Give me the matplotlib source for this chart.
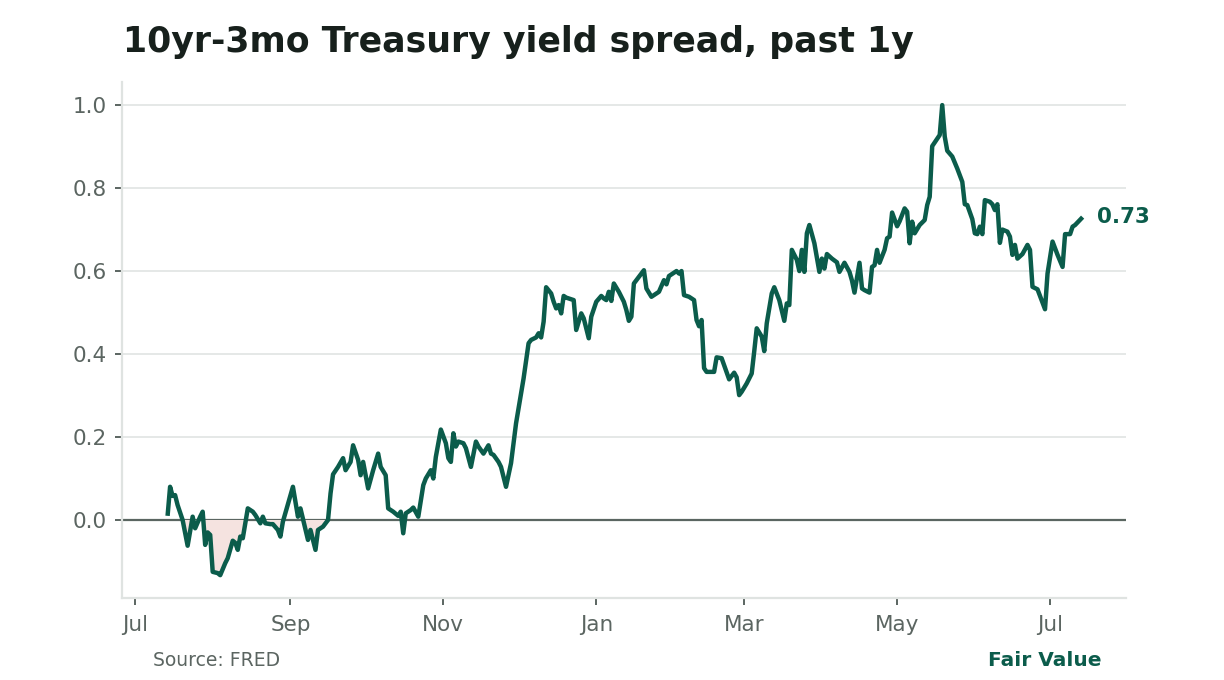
import matplotlib
matplotlib.use("Agg")
import matplotlib.pyplot as plt
import numpy as np
import pandas as pd

# ---- data ----
dates = [
    "2025-07-14", "2025-07-15", "2025-07-16", "2025-07-17", "2025-07-18", "2025-07-20",
    "2025-07-22", "2025-07-24", "2025-07-25", "2025-07-27", "2025-07-28", "2025-07-29",
    "2025-07-30", "2025-07-31", "2025-08-01", "2025-08-03", "2025-08-04", "2025-08-06",
    "2025-08-07", "2025-08-09", "2025-08-10", "2025-08-11", "2025-08-12", "2025-08-13",
    "2025-08-15", "2025-08-17", "2025-08-18", "2025-08-20", "2025-08-21", "2025-08-22",
    "2025-08-24", "2025-08-25", "2025-08-27", "2025-08-28", "2025-08-29", "2025-09-02",
    "2025-09-04", "2025-09-05", "2025-09-08", "2025-09-09", "2025-09-11", "2025-09-12",
    "2025-09-14", "2025-09-15", "2025-09-16", "2025-09-17", "2025-09-18", "2025-09-20",
    "2025-09-22", "2025-09-23", "2025-09-25", "2025-09-26", "2025-09-28", "2025-09-29",
    "2025-09-30", "2025-10-02", "2025-10-04", "2025-10-06", "2025-10-07", "2025-10-09",
    "2025-10-10", "2025-10-12", "2025-10-14", "2025-10-15", "2025-10-16", "2025-10-17",
    "2025-10-19", "2025-10-20", "2025-10-22", "2025-10-24", "2025-10-25", "2025-10-27",
    "2025-10-28", "2025-10-29", "2025-10-31", "2025-11-02", "2025-11-03", "2025-11-04",
    "2025-11-05", "2025-11-06", "2025-11-07", "2025-11-09", "2025-11-10", "2025-11-12",
    "2025-11-14", "2025-11-15", "2025-11-17", "2025-11-19", "2025-11-20", "2025-11-21",
    "2025-11-23", "2025-11-24", "2025-11-26", "2025-11-28", "2025-11-30", "2025-12-02",
    "2025-12-03", "2025-12-05", "2025-12-06", "2025-12-08", "2025-12-09", "2025-12-10",
    "2025-12-11", "2025-12-12", "2025-12-14", "2025-12-15", "2025-12-16", "2025-12-17",
    "2025-12-18", "2025-12-19", "2025-12-20", "2025-12-23", "2025-12-24", "2025-12-26",
    "2025-12-27", "2025-12-29", "2025-12-30", "2026-01-01", "2026-01-03", "2026-01-04",
    "2026-01-05", "2026-01-06", "2026-01-07", "2026-01-08", "2026-01-10", "2026-01-12",
    "2026-01-13", "2026-01-14", "2026-01-15", "2026-01-16", "2026-01-18", "2026-01-20",
    "2026-01-21", "2026-01-23", "2026-01-25", "2026-01-26", "2026-01-28", "2026-01-29",
    "2026-01-30", "2026-02-01", "2026-02-02", "2026-02-03", "2026-02-04", "2026-02-05",
    "2026-02-07", "2026-02-09", "2026-02-10", "2026-02-11", "2026-02-12", "2026-02-13",
    "2026-02-14", "2026-02-17", "2026-02-18", "2026-02-20", "2026-02-21", "2026-02-23",
    "2026-02-25", "2026-02-26", "2026-02-27", "2026-02-28", "2026-03-02", "2026-03-04",
    "2026-03-05", "2026-03-06", "2026-03-08", "2026-03-09", "2026-03-10", "2026-03-12",
    "2026-03-13", "2026-03-15", "2026-03-17", "2026-03-18", "2026-03-19", "2026-03-20",
    "2026-03-22", "2026-03-23", "2026-03-24", "2026-03-25", "2026-03-26", "2026-03-27",
    "2026-03-29", "2026-03-31", "2026-04-01", "2026-04-02", "2026-04-03", "2026-04-05",
    "2026-04-07", "2026-04-08", "2026-04-10", "2026-04-12", "2026-04-13", "2026-04-14",
    "2026-04-16", "2026-04-17", "2026-04-18", "2026-04-20", "2026-04-21", "2026-04-22",
    "2026-04-23", "2026-04-24", "2026-04-26", "2026-04-27", "2026-04-28", "2026-04-29",
    "2026-05-01", "2026-05-02", "2026-05-04", "2026-05-05", "2026-05-06", "2026-05-07",
    "2026-05-08", "2026-05-10", "2026-05-12", "2026-05-13", "2026-05-14", "2026-05-15",
    "2026-05-18", "2026-05-19", "2026-05-20", "2026-05-21", "2026-05-23", "2026-05-25",
    "2026-05-27", "2026-05-28", "2026-05-29", "2026-05-31", "2026-06-01", "2026-06-02",
    "2026-06-03", "2026-06-04", "2026-06-05", "2026-06-07", "2026-06-08", "2026-06-09",
    "2026-06-10", "2026-06-11", "2026-06-12", "2026-06-14", "2026-06-15", "2026-06-16",
    "2026-06-17", "2026-06-18", "2026-06-20", "2026-06-22", "2026-06-23", "2026-06-24",
    "2026-06-26", "2026-06-29", "2026-06-30", "2026-07-02", "2026-07-04", "2026-07-06",
    "2026-07-07", "2026-07-09", "2026-07-10", "2026-07-11", "2026-07-14",
]
spread = [
    0.01, 0.08, 0.058, 0.06, 0.036, 0.0,
    -0.062, 0.008, -0.02, 0.008, 0.02, -0.06,
    -0.03, -0.036, -0.125, -0.128, -0.133, -0.104,
    -0.092, -0.05, -0.055, -0.072, -0.04, -0.044,
    0.028, 0.02, 0.012, -0.008, 0.008, -0.008,
    -0.01, -0.01, -0.024, -0.04, -0.004, 0.08,
    0.008, 0.028, -0.048, -0.024, -0.072, -0.024,
    -0.016, -0.008, 0.0, 0.064, 0.11, 0.128,
    0.149, 0.12, 0.14, 0.18, 0.145, 0.108,
    0.14, 0.076, 0.12, 0.16, 0.128, 0.108,
    0.028, 0.02, 0.01, 0.02, -0.032, 0.016,
    0.024, 0.03, 0.008, 0.084, 0.1, 0.12,
    0.1, 0.152, 0.218, 0.185, 0.149, 0.14,
    0.209, 0.177, 0.189, 0.185, 0.173, 0.128,
    0.189, 0.177, 0.16, 0.18, 0.16, 0.157,
    0.14, 0.128, 0.08, 0.137, 0.233, 0.305,
    0.341, 0.426, 0.434, 0.44, 0.45, 0.44,
    0.478, 0.561, 0.546, 0.526, 0.51, 0.518,
    0.498, 0.54, 0.536, 0.53, 0.458, 0.498,
    0.486, 0.438, 0.49, 0.526, 0.54, 0.534,
    0.53, 0.55, 0.528, 0.57, 0.55, 0.526,
    0.506, 0.48, 0.49, 0.57, 0.586, 0.602,
    0.558, 0.538, 0.546, 0.55, 0.578, 0.568,
    0.588, 0.596, 0.6, 0.594, 0.6, 0.542,
    0.538, 0.53, 0.482, 0.467, 0.482, 0.366,
    0.357, 0.357, 0.392, 0.39, 0.373, 0.339,
    0.355, 0.344, 0.301, 0.309, 0.329, 0.353,
    0.406, 0.462, 0.442, 0.407, 0.474, 0.546,
    0.561, 0.53, 0.48, 0.522, 0.518, 0.651,
    0.627, 0.6, 0.651, 0.598, 0.691, 0.711,
    0.667, 0.598, 0.63, 0.606, 0.641, 0.63,
    0.621, 0.598, 0.62, 0.598, 0.577, 0.548,
    0.62, 0.558, 0.554, 0.548, 0.61, 0.614,
    0.651, 0.62, 0.651, 0.679, 0.683, 0.741,
    0.708, 0.72, 0.751, 0.743, 0.667, 0.719,
    0.691, 0.711, 0.723, 0.759, 0.779, 0.901,
    0.928, 1.0, 0.924, 0.89, 0.876, 0.847,
    0.815, 0.761, 0.759, 0.725, 0.691, 0.689,
    0.707, 0.689, 0.771, 0.767, 0.761, 0.747,
    0.761, 0.668, 0.7, 0.695, 0.683, 0.639,
    0.663, 0.63, 0.641, 0.663, 0.651, 0.562,
    0.556, 0.508, 0.594, 0.671, 0.639, 0.61,
    0.689, 0.689, 0.707, 0.711, 0.73,
]
y_ticks = [0.0, 0.2, 0.4, 0.6, 0.8, 1.0]
x_tick_dates = ["2025-07-01", "2025-09-01", "2025-11-01", "2026-01-01",
                "2026-03-01", "2026-05-01", "2026-07-01"]
x_tick_labels = ["Jul", "Sep", "Nov", "Jan", "Mar", "May", "Jul"]
title = "10yr-3mo Treasury yield spread, past 1y"
last_label = "0.73"
source = "Source: FRED"
brand = "Fair Value"

# ---- style ----
GREEN = "#0b5c4b"
GRID = "#e3e6e5"
SPINE = "#dfe3e1"
TEXT_GRAY = "#5b6561"
ZERO = "#5a6661"
FILL = "#f5e3e0"

plt.rcParams["font.family"] = ["DejaVu Sans"]

x = pd.to_datetime(dates)
y = np.array(spread)

fig = plt.figure(figsize=(12.24, 6.8), dpi=100)
ax = fig.add_axes([0.0997, 0.1206, 0.8203, 0.7584])

ax.set_ylim(-0.188, 1.055)
ax.set_xlim(pd.Timestamp("2025-06-25 20:00"), pd.Timestamp("2026-07-31 08:00"))

for t in y_ticks:
    if t != 0.0:
        ax.axhline(t, color=GRID, lw=1.3, zorder=0)
ax.axhline(0.0, color=ZERO, lw=1.6, zorder=1)

ax.fill_between(x, y, 0, where=(y < 0), interpolate=True, color=FILL, lw=0, zorder=1)
ax.plot(x, y, color=GREEN, lw=3.2, solid_joinstyle="round", solid_capstyle="butt", zorder=3)

ax.annotate(last_label, xy=(x[-1], y[-1]), xytext=(10, 0), textcoords="offset points",
            ha="left", va="center", fontsize=15.5, fontweight="bold", color=GREEN)

ax.set_yticks(y_ticks)
ax.set_yticklabels([f"{t:.1f}" for t in y_ticks])
ax.set_xticks(pd.to_datetime(x_tick_dates))
ax.set_xticklabels(x_tick_labels)

for s in ["top", "right"]:
    ax.spines[s].set_visible(False)
for s in ["left", "bottom"]:
    ax.spines[s].set_color(SPINE)
    ax.spines[s].set_linewidth(1.6)

ax.tick_params(axis="both", colors=TEXT_GRAY, labelsize=15.5, length=5, width=1.4)
ax.tick_params(axis="x", pad=7)
ax.tick_params(axis="y", pad=6)

fig.text(123 / 1224, 1 - 42 / 680, title, fontsize=25, fontweight="bold",
         color="#17201c", ha="left", va="center")
fig.text(153 / 1224, 1 - 660 / 680, source, fontsize=13.5, color=TEXT_GRAY,
         ha="left", va="center")
fig.text(1101 / 1224, 1 - 660 / 680, brand, fontsize=14.5, fontweight="bold",
         color=GREEN, ha="right", va="center")

fig.savefig("out.png", dpi=100, facecolor="white")
